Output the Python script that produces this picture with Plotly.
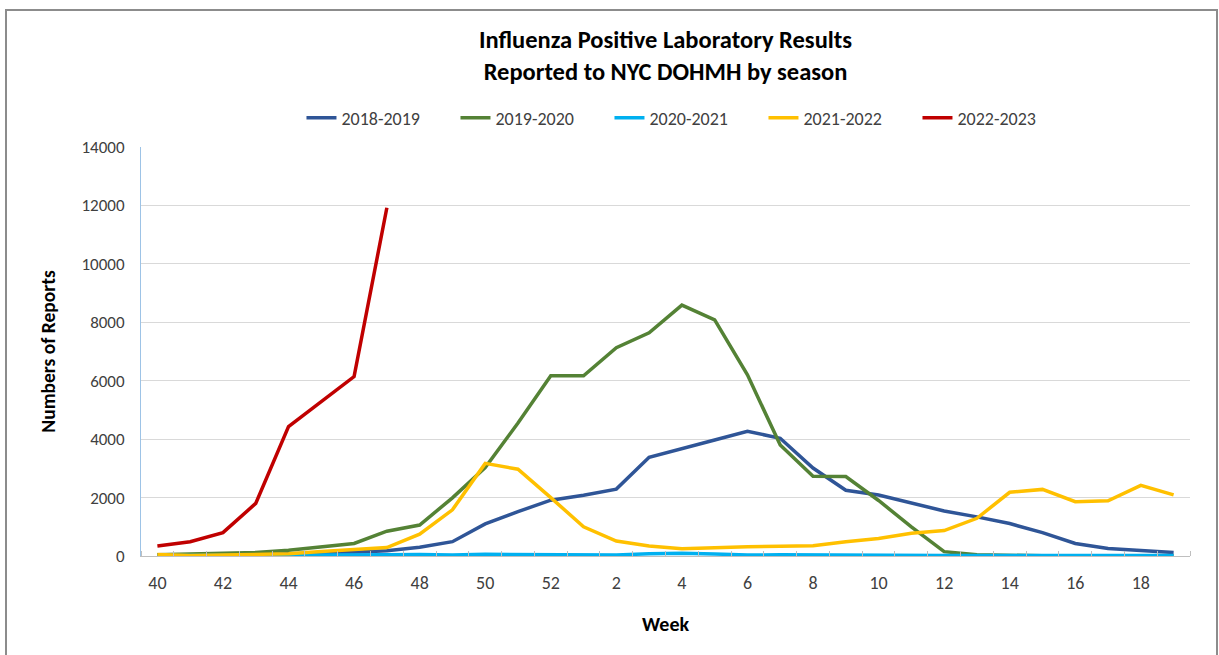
import plotly.graph_objects as go

weeks = list(range(40, 53)) + list(range(1, 20))
week_labels = [str(w) for w in weeks]

s2018_2019 = [30, 30, 50, 60, 80, 100, 130, 180, 300, 490, 1100, 1520, 1910, 2080, 2290, 3380,
              3690, 3970, 4270, 4030, 3010, 2250, 2090, 1800, 1540, 1340, 1110, 800, 430, 260, 180, 120]
s2019_2020 = [40, 60, 90, 120, 200, 320, 430, 850, 1060, 1990, 3030, 4550, 6170, 6170, 7130, 7640,
              8590, 8080, 6200, 3800, 2730, 2720, 1900, 1000, 150, 40, 20, 10, 10, 10, 10, 10]
s2020_2021 = [20, 20, 20, 20, 20, 30, 30, 40, 50, 30, 60, 60, 30, 50, 30, 80,
              90, 70, 30, 40, 30, 20, 20, 20, 20, 20, 20, 20, 20, 20, 20, 20]
s2021_2022 = [50, 20, 30, 50, 80, 150, 220, 290, 750, 1580, 3170, 2970, 2000, 1000, 510, 340,
              250, 300, 320, 330, 350, 490, 600, 780, 870, 1290, 2180, 2280, 1860, 1890, 2420, 2090]
s2022_2023 = [340, 490, 800, 1800, 4430, 5280, 6140, 11920]

series = [
    ("2018-2019", s2018_2019, "#2f5597"),
    ("2019-2020", s2019_2020, "#548235"),
    ("2020-2021", s2020_2021, "#00b0f0"),
    ("2021-2022", s2021_2022, "#ffc000"),
    ("2022-2023", s2022_2023, "#c00000"),
]

FONT = "Calibri, Carlito, 'Liberation Sans', sans-serif"

fig = go.Figure()
idx = list(range(len(weeks)))
for name, vals, color in series:
    fig.add_trace(go.Scatter(
        x=idx[:len(vals)], y=vals, name=name, mode="lines",
        line=dict(color=color, width=3.5),
    ))

fig.update_layout(
    width=1219, height=655,
    margin=dict(l=141, r=29, t=147, b=99),
    paper_bgcolor="white", plot_bgcolor="white",
    font=dict(family=FONT, color="#404040", size=17),
    title=dict(
        text="Influenza Positive Laboratory Results<br>Reported to NYC DOHMH by season",
        x=0.5, xanchor="center", xref="paper", y=0.927, yanchor="top",
        font=dict(family=FONT, size=24.5, color="#000000", weight="bold"),
    ),
    legend=dict(
        orientation="h", x=0.52, xanchor="center", y=1.071, yanchor="middle",
        font=dict(family=FONT, size=18, color="#404040"),
        entrywidth=109, entrywidthmode="pixels", itemwidth=30,
        bgcolor="rgba(0,0,0,0)",
    ),
    showlegend=True,
)

fig.update_xaxes(
    range=[-0.5, len(weeks) - 0.5],
    tickmode="array", tickvals=idx[::2], ticktext=week_labels[::2],
    ticks="", showgrid=False, zeroline=False,
    showline=True, linecolor="#bfbfbf", linewidth=1,
    ticklabelstandoff=10,
    tickfont=dict(family=FONT, size=18, color="#404040"),
    minor=dict(ticks="inside", tick0=-0.5, dtick=1, ticklen=5, tickcolor="#bfbfbf", showgrid=False),
    title=dict(text="<b>Week</b>", font=dict(family=FONT, size=20, color="#000000"), standoff=24),
)
fig.update_yaxes(
    range=[0, 14000], dtick=2000, tick0=0, tickformat="d",
    showgrid=True, gridcolor="#d9d9d9", gridwidth=1.3,
    zeroline=False, showline=True, linecolor="#9dc3e6", linewidth=1,
    ticks="", ticklabelstandoff=12,
    tickfont=dict(family=FONT, size=17, color="#404040"),
    title=dict(text="<b>Numbers of Reports</b>", font=dict(family=FONT, size=19.5, color="#000000"), standoff=20),
)

fig.add_shape(type="rect", xref="paper", yref="paper",
              x0=(6 - 141) / 1049, x1=(1217 - 141) / 1049,
              y0=(556 - 665) / 409, y1=(556 - 10) / 409,
              line=dict(color="#8c8c8c", width=2), fillcolor="rgba(0,0,0,0)", layer="below")

fig.write_html("out.html", config={"displayModeBar": False},
               post_script="document.body.style.margin='0';document.body.style.overflow='hidden';")
